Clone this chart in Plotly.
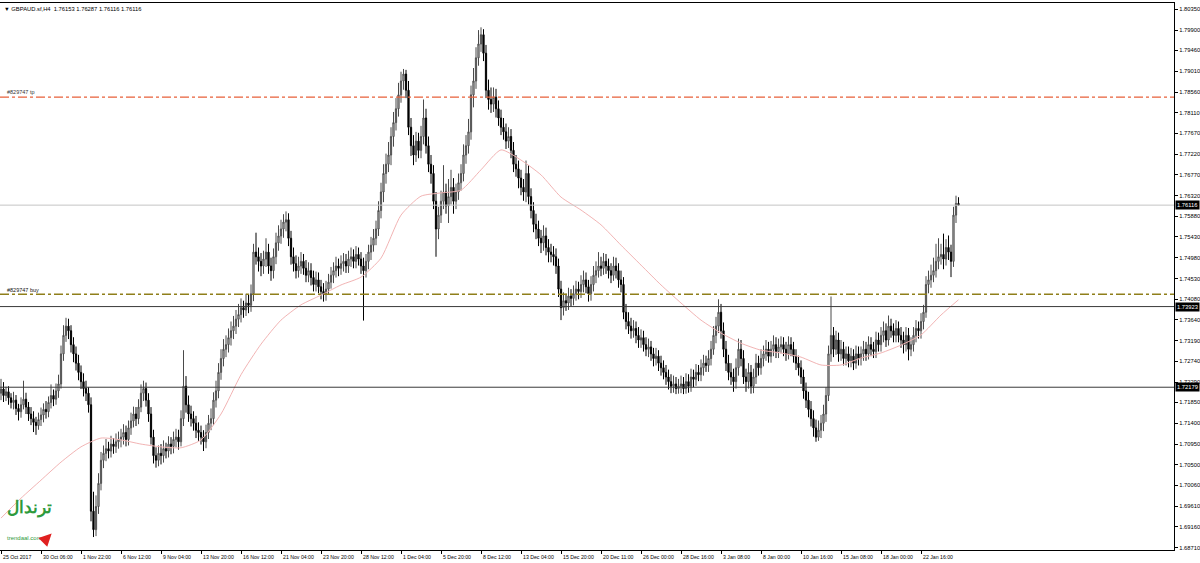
import plotly.graph_objects as go

# ---------------- data ----------------
first_open = 1.7205
closes = [
 1.7214,1.7200,1.7208,1.7195,1.7185,1.7190,1.7172,1.7165,
 1.7180,1.7192,1.7175,1.7160,1.7150,1.7142,1.7135,1.7148,
 1.7158,1.7170,1.7165,1.7185,1.7200,1.7192,1.7210,1.7225,
 1.7290,1.7330,1.7350,1.7340,1.7310,1.7290,1.7270,1.7250,
 1.7230,1.7215,1.7205,1.7180,1.6950,1.6910,1.6960,1.7010,
 1.7060,1.7075,1.7085,1.7080,1.7095,1.7090,1.7100,1.7105,
 1.7110,1.7120,1.7105,1.7130,1.7145,1.7160,1.7150,1.7175,
 1.7205,1.7215,1.7190,1.7160,1.7110,1.7070,1.7060,1.7075,
 1.7070,1.7085,1.7080,1.7095,1.7090,1.7105,1.7110,1.7100,
 1.7150,1.7220,1.7180,1.7160,1.7150,1.7140,1.7125,1.7120,
 1.7110,1.7100,1.7120,1.7140,1.7150,1.7190,1.7210,1.7250,
 1.7280,1.7300,1.7310,1.7325,1.7340,1.7350,1.7365,1.7375,
 1.7390,1.7385,1.7400,1.7395,1.7420,1.7510,1.7500,1.7490,
 1.7480,1.7495,1.7510,1.7480,1.7470,1.7500,1.7530,1.7545,
 1.7560,1.7575,1.7580,1.7540,1.7500,1.7485,1.7470,1.7480,
 1.7490,1.7475,1.7460,1.7470,1.7455,1.7440,1.7450,1.7435,
 1.7425,1.7420,1.7430,1.7445,1.7460,1.7470,1.7480,1.7475,
 1.7485,1.7490,1.7480,1.7495,1.7500,1.7490,1.7505,1.7495,
 1.7480,1.7470,1.7490,1.7510,1.7525,1.7540,1.7560,1.7600,
 1.7640,1.7680,1.7700,1.7720,1.7760,1.7790,1.7820,1.7850,
 1.7880,1.7895,1.7860,1.7780,1.7740,1.7720,1.7750,1.7730,
 1.7760,1.7800,1.7740,1.7700,1.7680,1.7620,1.7560,1.7590,
 1.7620,1.7640,1.7610,1.7630,1.7650,1.7620,1.7640,1.7660,
 1.7680,1.7720,1.7740,1.7770,1.7850,1.7880,1.7930,1.7960,
 1.7980,1.7940,1.7860,1.7840,1.7830,1.7845,1.7820,1.7800,
 1.7780,1.7770,1.7750,1.7760,1.7730,1.7700,1.7690,1.7670,
 1.7650,1.7640,1.7680,1.7630,1.7600,1.7570,1.7560,1.7540,
 1.7530,1.7545,1.7520,1.7510,1.7505,1.7500,1.7480,1.7430,
 1.7390,1.7405,1.7400,1.7415,1.7410,1.7420,1.7430,1.7425,
 1.7440,1.7450,1.7435,1.7420,1.7440,1.7460,1.7470,1.7480,
 1.7475,1.7490,1.7480,1.7470,1.7460,1.7480,1.7470,1.7450,
 1.7440,1.7380,1.7360,1.7350,1.7340,1.7345,1.7330,1.7320,
 1.7325,1.7310,1.7300,1.7305,1.7290,1.7280,1.7285,1.7270,
 1.7260,1.7250,1.7240,1.7230,1.7220,1.7225,1.7215,1.7220,
 1.7225,1.7215,1.7230,1.7220,1.7240,1.7235,1.7250,1.7245,
 1.7260,1.7270,1.7265,1.7280,1.7300,1.7330,1.7350,1.7380,
 1.7340,1.7300,1.7270,1.7250,1.7240,1.7230,1.7260,1.7300,
 1.7280,1.7240,1.7230,1.7250,1.7220,1.7240,1.7270,1.7260,
 1.7280,1.7290,1.7300,1.7285,1.7300,1.7310,1.7295,1.7305,
 1.7310,1.7300,1.7290,1.7310,1.7300,1.7285,1.7270,1.7260,
 1.7240,1.7210,1.7190,1.7170,1.7150,1.7130,1.7110,1.7125,
 1.7140,1.7160,1.7200,1.7290,1.7330,1.7300,1.7320,1.7290,
 1.7300,1.7280,1.7290,1.7275,1.7285,1.7270,1.7290,1.7280,
 1.7290,1.7300,1.7290,1.7310,1.7300,1.7295,1.7320,1.7310,
 1.7330,1.7340,1.7320,1.7350,1.7340,1.7330,1.7345,1.7330,
 1.7320,1.7310,1.7330,1.7300,1.7310,1.7330,1.7345,1.7340,
 1.7360,1.7380,1.7440,1.7450,1.7460,1.7470,1.7490,1.7500,
 1.7505,1.7495,1.7520,1.7510,1.7490,1.7590,1.76153,1.76116,
]
highs = [
 1.7236,1.7229,1.7219,1.7220,1.7205,1.7208,1.7201,1.7182,
 1.7196,1.7232,1.7206,1.7186,1.7175,1.7166,1.7154,1.7163,
 1.7174,1.7183,1.7188,1.7198,1.7224,1.7213,1.7226,1.7245,
 1.7308,1.7352,1.7368,1.7366,1.7352,1.7326,1.7306,1.7288,
 1.7265,1.7248,1.7232,1.7218,1.7196,1.6992,1.6984,1.7032,
 1.7078,1.7092,1.7106,1.7100,1.7113,1.7108,1.7118,1.7122,
 1.7128,1.7138,1.7135,1.7146,1.7163,1.7176,1.7175,1.7192,
 1.7224,1.7232,1.7228,1.7205,1.7175,1.7126,1.7088,1.7092,
 1.7095,1.7103,1.7098,1.7112,1.7110,1.7122,1.7128,1.7126,
 1.7168,1.7298,1.7242,1.7200,1.7178,1.7166,1.7156,1.7142,
 1.7135,1.7125,1.7137,1.7158,1.7172,1.7207,1.7232,1.7270,
 1.7300,1.7322,1.7330,1.7345,1.7360,1.7372,1.7385,1.7398,
 1.7410,1.7405,1.7420,1.7418,1.7440,1.7528,1.7552,1.7520,
 1.7508,1.7513,1.7540,1.7528,1.7498,1.7518,1.7552,1.7568,
 1.7580,1.7592,1.7598,1.7594,1.7556,1.7520,1.7503,1.7500,
 1.7510,1.7506,1.7493,1.7488,1.7486,1.7470,1.7468,1.7466,
 1.7450,1.7443,1.7448,1.7463,1.7478,1.7488,1.7500,1.7496,
 1.7503,1.7508,1.7506,1.7513,1.7520,1.7516,1.7523,1.7520,
 1.7510,1.7498,1.7506,1.7526,1.7543,1.7560,1.7578,1.7620,
 1.7660,1.7700,1.7723,1.7748,1.7780,1.7813,1.7843,1.7876,
 1.7900,1.7906,1.7904,1.7880,1.7800,1.7763,1.7770,1.7768,
 1.7783,1.7840,1.7820,1.7760,1.7720,1.7698,1.7640,1.7608,
 1.7643,1.7698,1.7658,1.7668,1.7688,1.7670,1.7658,1.7680,
 1.7700,1.7743,1.7763,1.7798,1.7870,1.7908,1.7953,1.7990,
 1.7996,1.7992,1.7958,1.7883,1.7866,1.7866,1.7863,1.7838,
 1.7818,1.7800,1.7788,1.7780,1.7776,1.7748,1.7720,1.7708,
 1.7688,1.7668,1.7708,1.7698,1.7648,1.7618,1.7593,1.7578,
 1.7558,1.7568,1.7563,1.7538,1.7528,1.7523,1.7518,1.7496,
 1.7448,1.7423,1.7420,1.7433,1.7430,1.7438,1.7448,1.7446,
 1.7460,1.7470,1.7466,1.7450,1.7458,1.7480,1.7490,1.7510,
 1.7500,1.7508,1.7506,1.7496,1.7486,1.7500,1.7498,1.7486,
 1.7470,1.7456,1.7398,1.7380,1.7368,1.7363,1.7360,1.7348,
 1.7343,1.7340,1.7326,1.7323,1.7318,1.7303,1.7303,1.7298,
 1.7286,1.7276,1.7266,1.7256,1.7246,1.7243,1.7240,1.7236,
 1.7243,1.7240,1.7248,1.7246,1.7258,1.7256,1.7268,1.7266,
 1.7278,1.7288,1.7286,1.7298,1.7318,1.7350,1.7370,1.7408,
 1.7398,1.7358,1.7318,1.7288,1.7270,1.7258,1.7280,1.7323,
 1.7320,1.7298,1.7258,1.7270,1.7266,1.7258,1.7290,1.7286,
 1.7300,1.7308,1.7320,1.7316,1.7318,1.7330,1.7326,1.7323,
 1.7328,1.7326,1.7316,1.7328,1.7326,1.7316,1.7300,1.7286,
 1.7276,1.7256,1.7228,1.7208,1.7188,1.7168,1.7148,1.7146,
 1.7158,1.7180,1.7218,1.7308,1.7414,1.7348,1.7340,1.7336,
 1.7320,1.7316,1.7306,1.7306,1.7303,1.7300,1.7308,1.7306,
 1.7306,1.7318,1.7316,1.7328,1.7326,1.7316,1.7338,1.7336,
 1.7348,1.7360,1.7356,1.7373,1.7366,1.7356,1.7363,1.7360,
 1.7348,1.7338,1.7348,1.7346,1.7326,1.7348,1.7363,1.7360,
 1.7378,1.7396,1.7458,1.7470,1.7483,1.7498,1.7528,1.7540,
 1.7528,1.7550,1.7538,1.7546,1.7526,1.7608,1.7632,1.76287,
]
lows = [
 1.7190,1.7186,1.7188,1.7180,1.7172,1.7170,1.7158,1.7146,
 1.7152,1.7170,1.7160,1.7145,1.7136,1.7121,1.7115,1.7126,
 1.7134,1.7142,1.7150,1.7153,1.7172,1.7177,1.7180,1.7195,
 1.7215,1.7275,1.7316,1.7322,1.7293,1.7272,1.7254,1.7233,
 1.7214,1.7198,1.7188,1.7163,1.6928,1.6894,1.6896,1.6944,
 1.6995,1.7043,1.7058,1.7064,1.7066,1.7074,1.7076,1.7085,
 1.7088,1.7094,1.7090,1.7092,1.7115,1.7131,1.7134,1.7138,
 1.7164,1.7188,1.7176,1.7143,1.7094,1.7053,1.7044,1.7047,
 1.7051,1.7055,1.7064,1.7066,1.7073,1.7075,1.7088,1.7083,
 1.7090,1.7134,1.7163,1.7143,1.7133,1.7124,1.7108,1.7102,
 1.7094,1.7080,1.7086,1.7106,1.7125,1.7136,1.7174,1.7194,
 1.7234,1.7263,1.7283,1.7293,1.7308,1.7322,1.7333,1.7348,
 1.7358,1.7368,1.7372,1.7378,1.7381,1.7404,1.7483,1.7468,
 1.7458,1.7463,1.7478,1.7463,1.7448,1.7453,1.7484,1.7513,
 1.7528,1.7541,1.7555,1.7523,1.7483,1.7468,1.7453,1.7455,
 1.7463,1.7461,1.7445,1.7445,1.7438,1.7425,1.7425,1.7421,
 1.7408,1.7403,1.7405,1.7418,1.7431,1.7443,1.7455,1.7458,
 1.7461,1.7468,1.7465,1.7465,1.7478,1.7475,1.7475,1.7481,
 1.7463,1.7362,1.7455,1.7473,1.7493,1.7511,1.7525,1.7545,
 1.7583,1.7618,1.7658,1.7683,1.7698,1.7738,1.7773,1.7803,
 1.7833,1.7861,1.7843,1.7763,1.7718,1.7698,1.7705,1.7713,
 1.7713,1.7743,1.7723,1.7683,1.7658,1.7603,1.7500,1.7538,
 1.7573,1.7603,1.7593,1.7573,1.7613,1.7593,1.7603,1.7623,
 1.7643,1.7663,1.7701,1.7723,1.7753,1.7823,1.7863,1.7913,
 1.7943,1.7923,1.7843,1.7818,1.7811,1.7813,1.7801,1.7783,
 1.7763,1.7753,1.7733,1.7735,1.7713,1.7683,1.7673,1.7648,
 1.7633,1.7621,1.7618,1.7613,1.7583,1.7553,1.7538,1.7523,
 1.7508,1.7513,1.7503,1.7488,1.7488,1.7481,1.7463,1.7413,
 1.7363,1.7373,1.7383,1.7385,1.7393,1.7395,1.7405,1.7408,
 1.7411,1.7423,1.7421,1.7403,1.7405,1.7425,1.7443,1.7455,
 1.7458,1.7461,1.7463,1.7453,1.7443,1.7448,1.7453,1.7433,
 1.7423,1.7365,1.7343,1.7333,1.7323,1.7325,1.7313,1.7303,
 1.7303,1.7295,1.7285,1.7283,1.7275,1.7263,1.7265,1.7253,
 1.7243,1.7235,1.7223,1.7213,1.7205,1.7206,1.7203,1.7204,
 1.7205,1.7203,1.7204,1.7206,1.7208,1.7218,1.7221,1.7231,
 1.7231,1.7243,1.7251,1.7251,1.7265,1.7288,1.7313,1.7335,
 1.7323,1.7283,1.7253,1.7233,1.7223,1.7208,1.7215,1.7243,
 1.7263,1.7225,1.7208,1.7215,1.7204,1.7205,1.7225,1.7243,
 1.7245,1.7263,1.7275,1.7271,1.7271,1.7285,1.7281,1.7281,
 1.7291,1.7285,1.7275,1.7278,1.7285,1.7271,1.7255,1.7243,
 1.7225,1.7193,1.7173,1.7153,1.7133,1.7111,1.7100,1.7102,
 1.7108,1.7123,1.7143,1.7188,1.7273,1.7283,1.7288,1.7273,
 1.7275,1.7265,1.7265,1.7261,1.7261,1.7255,1.7258,1.7265,
 1.7265,1.7275,1.7275,1.7278,1.7285,1.7281,1.7281,1.7295,
 1.7295,1.7315,1.7305,1.7308,1.7325,1.7315,1.7315,1.7315,
 1.7303,1.7291,1.7295,1.7276,1.7285,1.7295,1.7315,1.7323,
 1.7323,1.7343,1.7368,1.7421,1.7433,1.7445,1.7455,1.7473,
 1.7483,1.7473,1.7481,1.7493,1.7456,1.7478,1.7573,1.76116,
]
opens = [first_open] + closes[:-1]
bar_index = list(range(len(closes)))

# moving average (bar index, price)
ma_index = [0,8,16,24,32,40,48,56,64,72,80,88,96,104,112,120,128,136,144,152,160,168,176,184,
            192,200,208,216,224,232,240,248,256,264,272,280,288,296,304,312,320,328,336,344,352,
            360,368,376,383]
ma_values = [1.6935,1.6978,1.7017,1.7056,1.7089,1.7108,1.7104,1.7095,1.7089,1.7087,1.7104,1.7160,
             1.7245,1.7311,1.7363,1.7396,1.7417,1.7439,1.7456,1.7497,1.7590,1.7631,1.7638,1.7644,
             1.7688,1.7731,1.7709,1.7677,1.7629,1.7601,1.7569,1.7525,1.7482,1.7439,1.7400,1.7363,
             1.7335,1.7313,1.7298,1.7292,1.7283,1.7266,1.7266,1.7281,1.7292,1.7309,1.7331,1.7374,1.7407]

# x-axis labels (every 16 bars)
time_labels = ["25 Oct 2017","30 Oct 06:00","1 Nov 22:00","6 Nov 12:00","9 Nov 04:00","13 Nov 20:00",
               "16 Nov 12:00","21 Nov 04:00","23 Nov 20:00","28 Nov 12:00","1 Dec 04:00","5 Dec 20:00",
               "8 Dec 12:00","13 Dec 04:00","15 Dec 20:00","20 Dec 11:00","26 Dec 00:00","28 Dec 16:00",
               "3 Jan 08:00","8 Jan 00:00","10 Jan 16:00","15 Jan 08:00","18 Jan 00:00","22 Jan 16:00"]
time_label_index = [16 * k for k in range(len(time_labels))]

price_ticks = [1.80350,1.79900,1.79460,1.79010,1.78560,1.78110,1.77670,1.77220,1.76770,1.76320,
               1.75880,1.75430,1.74980,1.74530,1.74080,1.73640,1.73190,1.72740,1.72290,1.71850,
               1.71400,1.70950,1.70500,1.70060,1.69610,1.69160,1.68710]

tp_level = 1.7845
buy_level = 1.7419
support_levels = [1.73923, 1.72179]
bid_level = 1.76116
header = "GBPAUD.sf,H4  1.76153 1.76287 1.76116 1.76116"

# ---------------- figure ----------------
FONT = "Liberation Sans"
fig = go.Figure()

fig.add_trace(go.Candlestick(
    x=bar_index, open=opens, high=highs, low=lows, close=closes,
    increasing=dict(line=dict(color="#4a4a4a", width=1), fillcolor="#d4d4d4"),
    decreasing=dict(line=dict(color="#000000", width=1), fillcolor="#000000"),
    whiskerwidth=0, showlegend=False, hoverinfo="skip"))

fig.add_trace(go.Scatter(x=ma_index, y=ma_values, mode="lines",
                         line=dict(color="#f2b4b4", width=1, shape="spline", smoothing=0.6),
                         showlegend=False, hoverinfo="skip"))

x_max = 469.2
fig.add_shape(type="line", xref="paper", x0=0, x1=1, y0=tp_level, y1=tp_level,
              line=dict(color="#e8603a", width=1.2, dash="dashdot"))
fig.add_shape(type="line", xref="paper", x0=0, x1=1, y0=buy_level, y1=buy_level,
              line=dict(color="#8f7f1a", width=1.6, dash="dashdot"))
for lv in support_levels:
    fig.add_shape(type="line", xref="paper", x0=0, x1=1, y0=lv, y1=lv,
                  line=dict(color="#3a3a3a", width=1))
fig.add_shape(type="line", xref="paper", x0=0, x1=1, y0=bid_level, y1=bid_level,
              line=dict(color="#c4c4c4", width=1))

ann = []
ann.append(dict(xref="paper", yref="y", x=0.004, y=tp_level, text="#829747 tp", showarrow=False,
                xanchor="left", yanchor="bottom", yshift=0, font=dict(family=FONT, size=5.5, color="#333333")))
ann.append(dict(xref="paper", yref="y", x=0.004, y=buy_level, text="#829747 buy", showarrow=False,
                xanchor="left", yanchor="bottom", yshift=-1, font=dict(family=FONT, size=5.5, color="#111111")))
ann.append(dict(xref="paper", yref="paper", x=0.002, y=1, text="\u25BC " + header, showarrow=False,
                xanchor="left", yanchor="top", yshift=-1, font=dict(family=FONT, size=5.8, color="#000000")))
for lv in [bid_level] + support_levels:
    ann.append(dict(xref="paper", yref="y", x=1, y=lv, text=f"{lv:.5f}", showarrow=False,
                    xanchor="left", yanchor="middle", xshift=1, bgcolor="#000000", borderpad=1,
                    font=dict(family=FONT, size=5.8, color="#ffffff")))
for idx, lab in zip(time_label_index, time_labels):
    ann.append(dict(xref="x", yref="paper", x=idx, y=0, text=lab, showarrow=False,
                    xanchor="left", yanchor="top", yshift=-2, xshift=0,
                    font=dict(family=FONT, size=5.2, color="#000000")))
ann.append(dict(xref="paper", yref="paper", x=0.004, y=0.055, text="<b>ترندال</b>", showarrow=False,
                xanchor="left", yanchor="bottom", font=dict(family="Noto Sans", size=17, color="#2e9a3c")))
ann.append(dict(xref="paper", yref="paper", x=0.004, y=0.012, text="trendaal.com", showarrow=False,
                xanchor="left", yanchor="bottom", font=dict(family=FONT, size=6, color="#2e9a3c")))
ann.append(dict(xref="paper", yref="paper", x=0.044, y=0.03, ax=-6, ay=6, text="", showarrow=True,
                arrowhead=2, arrowsize=1, arrowwidth=2.5, arrowcolor="#e02020"))

fig.update_layout(
    width=1200, height=563,
    margin=dict(l=0, r=26, t=3, b=13),
    paper_bgcolor="#ffffff", plot_bgcolor="#ffffff",
    annotations=ann,
    font=dict(family=FONT, size=6, color="#000000"),
    showlegend=False,
)
fig.update_xaxes(range=[-0.4, x_max], rangeslider_visible=False, showgrid=False, zeroline=False,
                 showline=True, linecolor="#000000", linewidth=1, mirror=True,
                 ticks="outside", ticklen=3, tickcolor="#000000", tickvals=time_label_index,
                 showticklabels=False)
fig.update_yaxes(range=[1.68660, 1.80486], side="right", showgrid=False, zeroline=False,
                 showline=True, linecolor="#000000", linewidth=1, mirror=True,
                 ticks="outside", ticklen=3, tickcolor="#000000",
                 tickvals=price_ticks, ticktext=[f"{v:.5f}" for v in price_ticks],
                 tickfont=dict(family=FONT, size=5.8, color="#000000"))

fig.write_html("out.html", config={"displayModeBar": False},
               post_script="document.body.style.margin='0';document.body.style.padding='0';")
